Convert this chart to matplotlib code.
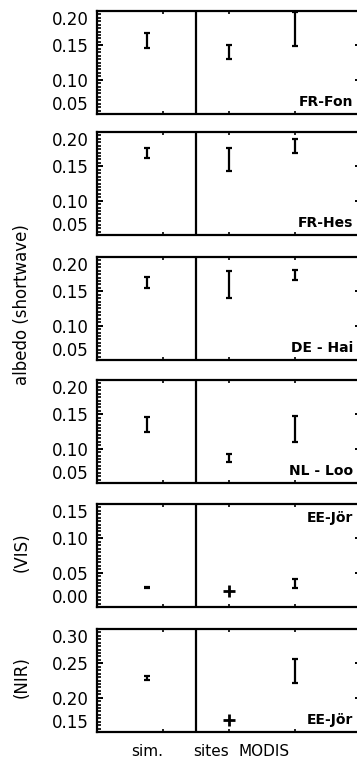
import matplotlib
matplotlib.use('Agg')
import matplotlib.pyplot as plt
from matplotlib.ticker import MultipleLocator, FormatStrFormatter

# albedo values per panel: FR-Fon, FR-Hes, DE-Hai, NL-Loo, EE-Jör (VIS), EE-Jör (NIR)
site_names = ['FR-Fon', 'FR-Hes', 'DE - Hai', 'NL - Loo', 'EE-Jör', 'EE-Jör']
y_ranges = [(0.05, 0.20), (0.05, 0.20), (0.05, 0.20), (0.05, 0.20), (0.00, 0.15), (0.15, 0.30)]

sim_val = [0.157, 0.169, 0.163, 0.135, 0.028, 0.229]
sim_err = [0.011, 0.007, 0.008, 0.011, 0.001, 0.003]
site_val = [0.140, 0.160, 0.160, 0.086, 0.0235, 0.168]
site_err = [0.010, 0.017, 0.019, 0.006, 0.0, 0.0]
modis_val = [0.174, 0.180, 0.174, 0.129, 0.034, 0.239]
modis_err = [0.025, 0.010, 0.007, 0.019, 0.007, 0.017]

x_sim, x_sites, x_modis = 0.75, 2.0, 3.0
col_labels = ['sim.', 'sites', 'MODIS']

W, H = 357, 764
fig = plt.figure(figsize=(W / 100, H / 100), dpi=100)

tops = [11, 132, 257, 380, 504, 629]
ph = 103
left, right = 97, 361

for i in range(6):
    ax = fig.add_axes([left / W, 1 - (tops[i] + ph) / H, (right - left) / W, ph / H])
    ax.set_xlim(0, 4)
    ax.set_ylim(*y_ranges[i])

    ax.errorbar([x_sim], [sim_val[i]], yerr=[sim_err[i]], fmt='none',
                ecolor='black', elinewidth=1.6, capsize=2.2, capthick=1.6)
    if site_err[i] > 0:
        ax.errorbar([x_sites], [site_val[i]], yerr=[site_err[i]], fmt='none',
                    ecolor='black', elinewidth=1.6, capsize=2.2, capthick=1.6)
    else:
        ax.plot([x_sites], [site_val[i]], '+', color='black', ms=8, mew=2)
    ax.errorbar([x_modis], [modis_val[i]], yerr=[modis_err[i]], fmt='none',
                ecolor='black', elinewidth=1.6, capsize=2.2, capthick=1.6)

    ax.axvline(1.5, color='black', lw=1.6)

    for s in ax.spines.values():
        s.set_linewidth(1.6)

    ax.set_xticks([1, 2, 3])
    ax.set_xticklabels([])
    ax.set_yticks([y_ranges[i][0] + 0.05 * k for k in range(4)])
    ax.yaxis.set_minor_locator(MultipleLocator(0.005))
    ax.yaxis.set_major_formatter(FormatStrFormatter('%.2f'))
    ax.tick_params(axis='x', which='major', direction='in', top=True, bottom=True,
                   length=2.5, width=1.2)
    ax.tick_params(axis='y', which='major', direction='in', left=True, right=True,
                   length=4.5, width=1.4, labelsize=12, pad=6)
    ax.tick_params(axis='y', which='minor', direction='in', left=True, right=False,
                   length=3, width=1.2)
    labs = ax.get_yticklabels()
    labs[0].set_va('bottom')
    labs[-1].set_va('top')

    if i == 4:
        ty = 518
    else:
        ty = tops[i] + ph - 12
    fig.text(353 / W, 1 - ty / H, site_names[i], ha='right', va='center',
             fontsize=10, fontweight='bold')

fig.text(22 / W, 1 - 305 / H, 'albedo (shortwave)', rotation=90,
         ha='center', va='center', fontsize=12)
fig.text(22 / W, 1 - 552 / H, '(VIS)', rotation=90, ha='center', va='center', fontsize=12)
fig.text(22 / W, 1 - 677 / H, '(NIR)', rotation=90, ha='center', va='center', fontsize=12)

for lab, xp in zip(col_labels, [147, 211, 264]):
    fig.text(xp / W, 1 - 751 / H, lab, ha='center', va='center', fontsize=11)

fig.savefig('out.png', dpi=100)
